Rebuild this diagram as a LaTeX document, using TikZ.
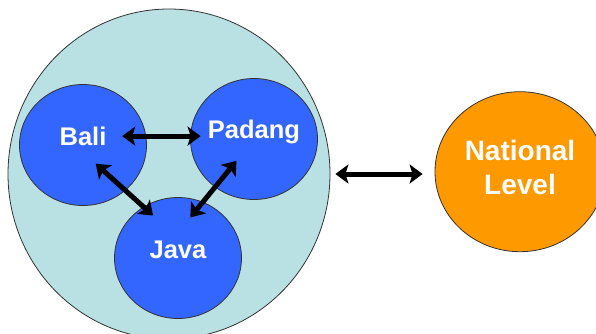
\documentclass[tikz,border=0pt]{standalone}
\usepackage{fontspec}
\setmainfont{Liberation Sans}
\usetikzlibrary{arrows.meta,shapes.geometric}
\definecolor{clusterblue}{RGB}{185,224,226}
\definecolor{islandblue}{RGB}{51,102,255}
\definecolor{nationorange}{RGB}{255,153,0}
\tikzset{
	blob/.style={ellipse,draw=black!80,line width=0.8pt,inner sep=0pt},
	island/.style={blob,fill=islandblue,minimum width=127pt,minimum height=121pt},
	islandname/.style={text=white,font=\bfseries\fontsize{25.5}{30}\selectfont,inner sep=0pt,anchor=base},
	link/.style={line width=5pt,{Stealth[length=13pt,width=19pt,inset=3pt]}-{Stealth[length=13pt,width=19pt,inset=3pt]}}
}

\begin{document}
\begin{tikzpicture}[x=1pt,y=1pt]
			%%%%% START %%%%%
			\useasboundingbox (0,0) rectangle (596,333);
			
			\node[blob,fill=clusterblue,minimum width=322pt,minimum height=330pt] (cluster) at (169,159) {};
			
			\node[island] (bali) at (83,188) {};
			\node[island] (padang) at (254,194) {};
			\node[island] (java) at (178,75) {};
			
			\node[islandname] (balitxt) at (bali.center) {Bali};
			\node[islandname,yshift=1pt] (padangtxt) at (padang.center) {Padang};
			\node[islandname] (javatxt) at (java.center) {Java};
			
			\node[blob,fill=nationorange,minimum width=170pt,minimum height=160pt] (natl) at (520,161.3) {};
			\node[text=white,font=\bfseries\fontsize{28}{34}\selectfont,align=center,inner sep=0pt,yshift=4pt] (natltxt) at (natl.center) {National\\Level};
			
			\draw[link,shorten <=-24pt,shorten >=-10.5pt] (bali.8) -- (bali.8 -| padang.west);
			\draw[link,shorten <=-40pt,shorten >=-13pt] (bali.-47) -- (java.124.5);
			\draw[link,shorten <=-34pt,shorten >=-20pt] (padang.231.5) -- (java.66.1);
			
			\draw[link,shorten <=5pt,shorten >=12pt] (cluster.east) -- (cluster.east -| natl.west);
			%%%%% END %%%%%
\end{tikzpicture}
\end{document}
